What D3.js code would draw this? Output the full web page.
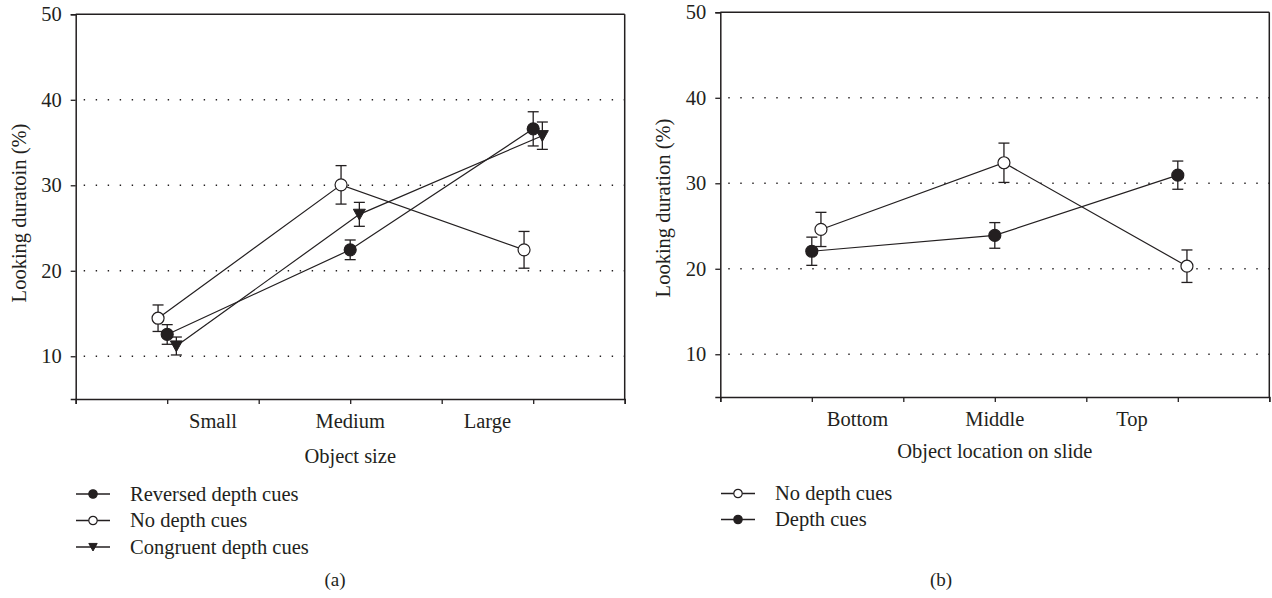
<!DOCTYPE html>
<html><head><meta charset="utf-8">
<script src="https://cdn.jsdelivr.net/npm/d3@7"></script>
<style>
html,body{margin:0;padding:0;background:#fff;}
text{font-family:"Liberation Serif","Times New Roman",serif;fill:#231f20;}
</style></head>
<body>
<svg id="chart" width="1272" height="598"></svg>
<script>
// ---------- data ----------
const yTicks = [10, 20, 30, 40, 50];

// Panel (a)
const categoriesA = ["Small", "Medium", "Large"];
const seriesNamesA = ["Reversed depth cues", "No depth cues", "Congruent depth cues"];
const reversedMean = [12.55, 22.45, 36.6];
const reversedErr = [1.15, 1.15, 2.0];
const noCuesAMean = [14.45, 30.05, 22.45];
const noCuesAErr = [1.55, 2.25, 2.15];
const congruentMean = [11.2, 26.6, 35.8];
const congruentErr = [1.05, 1.4, 1.6];

// Panel (b)
const categoriesB = ["Bottom", "Middle", "Top"];
const seriesNamesB = ["No depth cues", "Depth cues"];
const noCuesBMean = [24.6, 32.4, 20.3];
const noCuesBErr = [2.0, 2.3, 1.9];
const depthCuesMean = [22.05, 23.9, 30.95];
const depthCuesErr = [1.65, 1.5, 1.65];

// ---------- drawing ----------
const svg = d3.select("#chart");
const INK = "#231f20";

function marker(sel, type, r) {
  if (type === "tri") {
    sel.append("path")
      .attr("d", `M${-r},${-r * 0.85} L${r},${-r * 0.85} L0,${r * 0.95} Z`)
      .attr("fill", INK).attr("stroke", INK).attr("stroke-width", 1);
  } else {
    sel.append("circle").attr("r", r)
      .attr("fill", type === "open" ? "#fff" : INK)
      .attr("stroke", INK).attr("stroke-width", 1.2);
  }
}

function drawPanel(cfg) {
  const g = svg.append("g");
  const x = d3.scaleLinear().domain([0, 6]).range([cfg.x0, cfg.x0 + 549]);
  const y = d3.scaleLinear().domain([5, 50]).range([cfg.yBottom, cfg.yTop]);
  const [x1, x2] = x.range();

  // dotted grid
  g.selectAll(".grid").data(yTicks.filter(v => v < 50)).enter().append("line")
    .attr("x1", x1 + 8).attr("x2", x2).attr("y1", d => y(d)).attr("y2", d => y(d))
    .attr("stroke", INK).attr("stroke-width", 1.4).attr("stroke-dasharray", "1.4,10.6");

  // frame: top and right
  g.append("line").attr("x1", x1).attr("x2", x2).attr("y1", y(50)).attr("y2", y(50))
    .attr("stroke", INK).attr("stroke-width", 1.5);
  g.append("line").attr("x1", x2).attr("x2", x2).attr("y1", y(50)).attr("y2", y(5))
    .attr("stroke", INK).attr("stroke-width", 1.5);

  // y axis
  const ya = g.append("g").attr("transform", `translate(${x1},0)`)
    .call(d3.axisLeft(y).tickValues(yTicks).tickSize(5).tickPadding(9).tickFormat(d3.format("d")));
  ya.select(".domain").attr("stroke", INK).attr("stroke-width", 1.5);
  ya.selectAll(".tick line").attr("stroke", INK).attr("stroke-width", 1.3);
  ya.selectAll(".tick text").style("font-family", "Liberation Serif").style("font-size", "20.5px").attr("fill", INK);

  // x axis
  const xa = g.append("g").attr("transform", `translate(0,${y(5)})`)
    .call(d3.axisBottom(x).tickValues(d3.range(0, 7)).tickSize(5).tickFormat(""));
  xa.select(".domain").attr("stroke", INK).attr("stroke-width", 1.5);
  xa.selectAll(".tick line").attr("stroke", INK).attr("stroke-width", 1.3);

  // category labels
  g.selectAll(".cat").data(cfg.categories).enter().append("text")
    .attr("x", (d, i) => x(1.5 * (i + 1))).attr("y", y(5) + 29)
    .attr("text-anchor", "middle").style("font-size", "20.5px").text(d => d);

  // axis titles
  g.append("text").attr("x", x(3)).attr("y", cfg.xTitleY)
    .attr("text-anchor", "middle").style("font-size", "20.5px").text(cfg.xTitle);
  g.append("text").attr("transform", `translate(${cfg.yTitleX},${cfg.yTitleY}) rotate(-90)`)
    .attr("text-anchor", "middle").attr("dy", "0.35em").style("font-size", "20.5px").text(cfg.yTitle);

  const xi = (i, off) => x(1 + 2 * i + off);

  // error bars
  cfg.series.forEach(s => {
    s.mean.forEach((m, i) => {
      const cx = xi(i, s.off);
      const top = y(m + s.err[i]), bot = y(m - s.err[i]);
      g.append("line").attr("x1", cx).attr("x2", cx).attr("y1", top).attr("y2", bot)
        .attr("stroke", INK).attr("stroke-width", 1.3);
      [top, bot].forEach(yy => g.append("line").attr("x1", cx - 5.5).attr("x2", cx + 5.5)
        .attr("y1", yy).attr("y2", yy).attr("stroke", INK).attr("stroke-width", 1.3));
    });
  });
  // lines
  cfg.series.forEach(s => {
    g.append("path").datum(s.mean)
      .attr("d", d3.line().x((d, i) => xi(i, s.off)).y(d => y(d)))
      .attr("fill", "none").attr("stroke", INK).attr("stroke-width", 1.2);
  });
  // markers
  cfg.series.forEach(s => {
    s.mean.forEach((m, i) => {
      const mg = g.append("g").attr("transform", `translate(${xi(i, s.off)},${y(m)})`);
      marker(mg, s.type, 6);
    });
  });

  // legend
  cfg.legend.forEach((s, k) => {
    const ly = cfg.legendY + k * cfg.legendStep;
    g.append("line").attr("x1", cfg.legendX).attr("x2", cfg.legendX + 34)
      .attr("y1", ly).attr("y2", ly).attr("stroke", INK).attr("stroke-width", 1.3);
    const mg = g.append("g").attr("transform", `translate(${cfg.legendX + 17},${ly})`);
    marker(mg, s.type, 4.2);
    g.append("text").attr("x", cfg.legendX + 54).attr("y", ly).attr("dy", "0.32em")
      .style("font-size", "20.5px").text(s.name);
  });

  g.append("text").attr("x", cfg.tagX).attr("y", 580).attr("dy", "0.32em")
    .attr("text-anchor", "middle").style("font-size", "19px").text(cfg.tag);
}

const seriesA = [
  { name: seriesNamesA[0], mean: reversedMean, err: reversedErr, type: "filled", off: 0 },
  { name: seriesNamesA[1], mean: noCuesAMean, err: noCuesAErr, type: "open", off: -0.1 },
  { name: seriesNamesA[2], mean: congruentMean, err: congruentErr, type: "tri", off: 0.1 }
];
drawPanel({
  x0: 75.7, yTop: 14.3, yBottom: 399,
  categories: categoriesA, series: seriesA, legend: seriesA,
  xTitle: "Object size", xTitleY: 463, yTitle: "Looking duratoin (%)", yTitleX: 19, yTitleY: 213,
  legendX: 76, legendY: 494, legendStep: 26.5, tag: "(a)", tagX: 335
});

const seriesB = [
  { name: seriesNamesB[0], mean: noCuesBMean, err: noCuesBErr, type: "open", off: 0.1 },
  { name: seriesNamesB[1], mean: depthCuesMean, err: depthCuesErr, type: "filled", off: 0 }
];
drawPanel({
  x0: 720.3, yTop: 12.3, yBottom: 397,
  categories: categoriesB, series: seriesB, legend: seriesB,
  xTitle: "Object location on slide", xTitleY: 458, yTitle: "Looking duration (%)", yTitleX: 663, yTitleY: 208,
  legendX: 721, legendY: 493.5, legendStep: 26, tag: "(b)", tagX: 941
});
</script>
</body></html>
